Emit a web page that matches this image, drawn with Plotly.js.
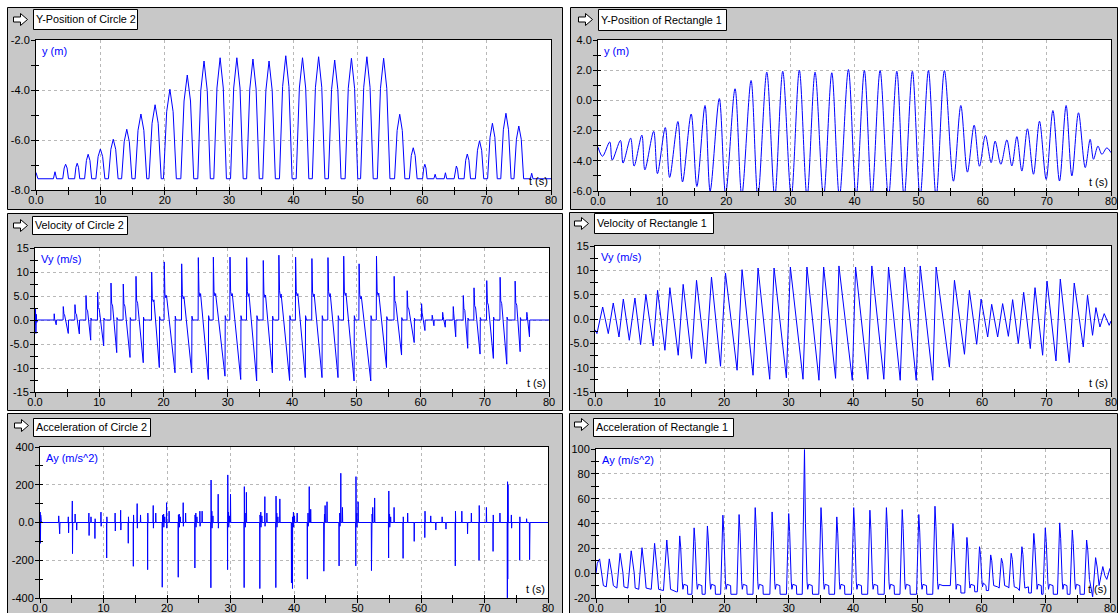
<!DOCTYPE html>
<html><head><meta charset="utf-8">
<script src="https://cdn.plot.ly/plotly-3.0.1.min.js"></script>
<style>html,body{margin:0;padding:0;background:#fff;}#chart{width:1118px;height:613px;}</style>
</head><body><div id="chart"></div>
<script>
// ---------------- DATA ----------------
const timeTicks = [0,10,20,30,40,50,60,70,80];
const timeTickText = ['0.0','10','20','30','40','50','60','70','80'];

const posCircleTicks = [-8,-6,-4,-2];
const posCircleText = ['-8.0','-6.0','-4.0','-2.0'];
const posRectTicks = [-6,-4,-2,0,2,4];
const posRectText = ['-6.0','-4.0','-2.0','0.0','2.0','4.0'];
const velTicks = [-15,-10,-5,0,5,10,15];
const velText = ['-15','-10','-5.0','0.0','5.0','10','15'];
const accCircleTicks = [-400,-200,0,200,400];
const accCircleText = ['-400','-200','0.0','200','400'];
const accRectTicks = [-20,0,20,40,60,80,100];
const accRectText = ['-20','0.0','20','40','60','80','100'];

// Y-Position of Circle 2  [t, y]
const circle2Y = [
[0,-7.3],[0.3,-7.55],
[2.7,-7.55],[2.95,-7.27],[3.2,-7.55],
[4.15,-7.55],[4.38,-7.12],[4.6,-6.97],[4.83,-7.12],[5.05,-7.55],
[6.0,-7.55],[6.2,-7.09],[6.4,-6.93],[6.6,-7.09],[6.8,-7.55],
[7.55,-7.55],[7.83,-6.82],[8.1,-6.57],[8.38,-6.82],[8.65,-7.55],
[9.3,-7.55],[9.65,-6.66],[10.0,-6.36],[10.35,-6.66],[10.7,-7.55],
[11.25,-7.55],[11.63,-6.37],[12.0,-5.97],[12.38,-6.37],[12.75,-7.55],
[13.3,-7.55],[13.7,-6.07],[14.1,-5.57],[14.5,-6.07],[14.9,-7.55],
[15.4,-7.55],[15.85,-5.61],[16.3,-4.96],[16.75,-5.61],[17.2,-7.55],
[17.55,-7.55],[18.03,-5.33],[18.5,-4.59],[18.98,-5.33],[19.45,-7.55],
[19.8,-7.55],[20.3,-4.87],[20.8,-3.97],[21.3,-4.87],[21.8,-7.55],
[22.5,-7.55],[23.0,-4.44],[23.5,-3.4],[24.0,-4.44],[24.5,-7.55],
[25.13,-7.55],[25.6,-4.02],[26.1,-2.84],[26.6,-4.02],[27.08,-7.55],
[27.62,-7.55],[28.11,-3.92],[28.6,-2.71],[29.09,-3.92],[29.58,-7.55],
[30.22,-7.55],[30.71,-3.92],[31.2,-2.71],[31.69,-3.92],[32.18,-7.55],
[32.72,-7.55],[33.21,-3.96],[33.7,-2.76],[34.19,-3.96],[34.68,-7.55],
[35.22,-7.55],[35.71,-4.02],[36.2,-2.84],[36.69,-4.02],[37.18,-7.55],
[37.82,-7.55],[38.31,-3.86],[38.8,-2.63],[39.29,-3.86],[39.78,-7.55],
[40.42,-7.55],[40.91,-3.92],[41.4,-2.71],[41.89,-3.92],[42.38,-7.55],
[42.92,-7.55],[43.41,-3.89],[43.9,-2.67],[44.39,-3.89],[44.88,-7.55],
[45.42,-7.55],[45.91,-3.99],[46.4,-2.8],[46.89,-3.99],[47.38,-7.55],
[48.02,-7.55],[48.51,-3.93],[49.0,-2.73],[49.49,-3.93],[49.98,-7.55],
[50.42,-7.55],[50.91,-3.89],[51.4,-2.67],[51.89,-3.89],[52.38,-7.55],
[53.02,-7.55],[53.51,-3.93],[54.0,-2.73],[54.49,-3.93],[54.98,-7.55],
[55.7,-7.55],[56.1,-5.62],[56.5,-4.97],[56.9,-5.62],[57.3,-7.55],
[58.0,-7.55],[58.3,-6.62],[58.6,-6.31],[58.9,-6.62],[59.2,-7.55],
[60.05,-7.55],[60.23,-7.12],[60.4,-6.97],[60.58,-7.12],[60.75,-7.55],
[61.8,-7.55],[62.0,-7.37],[62.2,-7.55],
[63.4,-7.55],[63.6,-7.31],[63.8,-7.55],
[64.95,-7.55],[65.13,-7.17],[65.3,-7.04],[65.48,-7.17],[65.65,-7.55],
[66.5,-7.55],[66.75,-6.81],[67.0,-6.56],[67.25,-6.81],[67.5,-7.55],
[68.25,-7.55],[68.58,-6.41],[68.9,-6.03],[69.23,-6.41],[69.55,-7.55],
[70.15,-7.55],[70.53,-5.89],[70.9,-5.33],[71.28,-5.89],[71.65,-7.55],
[72.2,-7.55],[72.6,-5.59],[73.0,-4.93],[73.4,-5.59],[73.8,-7.55],
[74.25,-7.55],[74.63,-5.97],[75.0,-5.44],[75.38,-5.97],[75.75,-7.55],
[76.8,-7.55],[77.0,-7.33],[77.2,-7.55],
[80,-7.55]
];

// Y-Position of Rectangle 1  [t, y]  (extrema)
const rect1Y = [
[0,-3.1],[0.7,-3.7],[1.83,-2.75],[2.22,-3.95],[3.5,-2.65],[3.9,-4.15],[5.09,-2.5],[5.63,-4.35],
[6.84,-2.3],[7.31,-4.6],[8.68,-2.05],[9.27,-4.85],[10.49,-1.8],[11.17,-5.1],[12.46,-1.4],[13.18,-5.4],
[14.53,-0.9],[15.42,-5.7],[16.69,-0.34],[17.49,-6.0],[18.92,0.12],[19.9,-6.2],[21.37,0.77],[22.42,-6.3],
[23.87,1.32],[24.93,-6.4],[26.32,1.87],[27.56,-6.4],[28.81,1.93],[30.14,-6.4],[31.4,2.0],[32.6,-6.4],
[33.85,1.87],[35.17,-6.4],[36.46,1.83],[37.65,-6.4],[39.05,2.05],[40.25,-6.4],[41.54,1.98],[42.7,-6.4],
[43.99,1.98],[45.3,-6.4],[46.6,1.93],[47.74,-6.4],[49.03,1.93],[50.23,-6.4],[51.53,1.98],[52.73,-6.4],
[54.02,1.98],[55.43,-5.35],[56.58,-0.34],[57.61,-4.75],[58.66,-1.64],[59.49,-4.36],[60.42,-2.32],[61.31,-4.12],
[61.93,-2.7],[62.82,-4.23],[63.76,-2.62],[64.54,-4.34],[65.32,-2.4],[66.1,-4.68],[66.97,-1.88],[67.91,-4.89],
[68.85,-1.38],[69.89,-5.23],[70.94,-0.67],[71.97,-5.34],[73.0,-0.34],[73.9,-5.0],[74.93,-0.82],[75.98,-4.45],
[76.75,-2.58],[77.27,-3.9],[77.96,-3.03],[78.58,-3.57],[79.36,-3.14],[80,-3.46]
];

// Velocity of Circle 2  [t, Vy]
const circle2V = [
[0,-1],[0.08,2.5],[0.14,-2.8],[0.2,1.2],[0.28,-0.5],[0.4,0],
[2.96,0],[2.99,1.3],[3.05,0.3],[3.3,-1.0],[3.34,0],
[4.37,0],[4.4,2.8],[4.5,1.3],[4.6,1.1],[5.18,-2.8],[5.22,0],
[6.19,0],[6.22,3.2],[6.32,1.4],[6.45,1.2],[6.9,-2.9],[6.94,0],
[7.91,0],[7.94,5.1],[8.04,2.3],[8.19,1.9],[8.67,-4.2],[8.71,0.4],[8.8,0],
[9.72,0],[9.75,5.8],[9.85,2.6],[10.0,2.2],[10.69,-5.4],[10.73,0.4],[10.85,0],
[11.8,0],[11.83,7.7],[11.93,3.5],[12.08,2.9],[12.72,-6.8],[12.76,0.5],[12.9,0],
[13.71,0],[13.74,7.5],[13.84,3.4],[13.99,2.9],[14.79,-7.8],[14.83,0.5],[14.95,0],
[15.69,0],[15.72,9.1],[15.82,4.1],[15.97,3.5],[16.85,-8.9],[16.89,0.6],[17.0,0],
[18.13,0],[18.16,10.0],[18.26,4.5],[18.41,3.8],[18.51,4.2],[19.35,-9.9],[19.39,0.7],[19.5,0],
[20.09,0],[20.12,12.1],[20.22,5.4],[20.37,4.6],[20.47,5.1],[21.79,-11.0],[21.83,0.8],[21.95,0],
[22.8,0],[22.83,11.7],[22.93,5.3],[23.08,4.4],[23.18,4.9],[24.39,-11.0],[24.43,0.8],[24.55,0],
[25.39,0],[25.42,13.0],[25.52,5.9],[25.67,4.9],[25.77,5.5],[26.98,-12.4],[27.02,0.9],[27.15,0],
[27.73,0],[27.76,13.1],[27.86,5.9],[28.01,5.0],[28.11,5.5],[29.57,-11.7],[29.61,0.9],[29.75,0],
[30.32,0],[30.35,13.1],[30.45,5.9],[30.6,5.0],[30.7,5.5],[32.02,-12.4],[32.06,0.9],[32.2,0],
[32.92,0],[32.95,13.0],[33.05,5.9],[33.2,4.9],[33.3,5.5],[34.5,-12.7],[34.54,0.9],[34.7,0],
[35.5,0],[35.53,12.4],[35.63,5.6],[35.78,4.7],[35.88,5.2],[36.95,-11.0],[36.99,0.8],[37.1,0],
[37.93,0],[37.96,13.5],[38.06,6.1],[38.21,4.7],[38.31,5.4],[39.63,-12.6],[39.67,0.9],[39.8,0],
[40.53,0],[40.56,13.1],[40.66,5.9],[40.81,5.0],[40.91,5.5],[42.07,-12.0],[42.11,0.9],[42.25,0],
[43.07,0],[43.1,12.8],[43.2,5.8],[43.35,4.9],[43.45,5.4],[44.67,-12.0],[44.71,0.9],[44.85,0],
[45.57,0],[45.6,13.0],[45.7,5.9],[45.85,4.9],[45.95,5.5],[47.16,-12.0],[47.2,0.9],[47.35,0],
[48.02,0],[48.05,13.3],[48.15,6.0],[48.3,5.1],[48.4,5.6],[49.66,-12.7],[49.7,0.9],[49.85,0],
[50.41,0],[50.44,11.7],[50.54,5.3],[50.69,4.4],[50.79,4.9],[52.26,-12.7],[52.3,0.9],[52.45,0],
[53.12,0],[53.15,13.3],[53.25,6.0],[53.4,5.1],[53.5,5.6],[54.71,-9.9],[54.75,0.7],[54.9,0],
[55.87,0],[55.9,9.1],[56.0,4.1],[56.15,3.5],[57.05,-7.3],[57.09,0.5],[57.2,0],
[57.9,0],[57.93,6.1],[58.03,2.7],[58.18,2.3],[59.02,-4.7],[59.06,0.4],[59.15,0],
[60.14,0],[60.17,3.4],[60.25,1.5],[60.69,-2.2],[60.73,0],
[61.79,0],[61.82,1.0],[61.9,0.4],[62.09,-1.2],[62.13,0],
[63.42,0],[63.45,1.6],[63.53,0.7],[63.85,-1.5],[63.89,0],
[65.07,0],[65.1,2.8],[65.18,1.3],[65.48,-3.5],[65.52,0],
[66.63,0],[66.66,5.1],[66.76,2.3],[66.9,2.0],[67.35,-5.9],[67.39,0.4],[67.5,0],
[68.3,0],[68.33,6.7],[68.43,3.0],[68.58,2.5],[69.27,-7.1],[69.31,0.5],[69.45,0],
[70.28,0],[70.31,8.2],[70.41,3.7],[70.56,3.1],[71.34,-8.0],[71.38,0.6],[71.5,0],
[72.36,0],[72.39,8.9],[72.49,4.0],[72.64,3.4],[73.43,-9.2],[73.47,0.6],[73.6,0],
[74.7,0],[74.73,8.1],[74.83,3.6],[74.98,3.1],[75.51,-6.6],[75.55,0.5],[75.65,0],
[76.52,0],[76.55,1.6],[76.63,0.7],[76.96,-3.5],[77.0,0],
[80,0]
];

// Velocity of Rectangle 1  [t, Vy]  (extrema)
const rect1V = [
[0,-2.2],[0.3,-3.0],[1.19,2.46],[2.06,-3.0],[2.83,3.29],[3.72,-3.7],[4.39,4.1],[5.32,-4.37],
[6.19,4.31],[7.07,-5.26],[7.89,5.07],[9.03,-5.53],[9.7,5.89],[10.84,-6.43],[11.61,6.44],[12.9,-7.45],
[13.67,7.12],[14.97,-8.13],[15.74,7.95],[17.18,-9.16],[18.06,8.62],[19.46,-9.71],[20.23,9.45],[22.03,-10.53],
[22.8,10.14],[24.5,-11.56],[25.28,10.48],[27.09,-12.38],[27.76,10.48],[29.67,-12.1],[30.29,10.68],[32.25,-12.38],
[32.86,10.68],[34.72,-12.59],[35.45,10.68],[37.3,-12.2],[37.82,10.9],[39.89,-12.59],[40.4,10.68],[42.3,-12.38],
[42.92,10.9],[44.78,-12.38],[45.51,10.68],[47.32,-12.59],[47.99,10.68],[49.8,-12.59],[50.42,10.9],[52.37,-12.59],
[52.89,10.68],[54.95,-9.86],[55.73,7.95],[57.28,-7.25],[58.05,5.89],[59.18,-5.2],[59.86,4.1],[60.88,-3.7],
[61.5,3.02],[62.43,-3.7],[63.2,3.16],[64.09,-3.56],[64.75,3.98],[65.63,-5.05],[66.46,5.48],[67.49,-6.08],
[68.22,6.44],[69.4,-7.45],[70.08,7.8],[71.47,-8.62],[72.14,8.21],[73.53,-8.96],[74.3,7.39],[75.7,-5.75],
[76.36,4.87],[77.14,-3.35],[77.66,2.34],[78.28,-1.64],[78.95,1.1],[79.72,-1.3],[80,-0.4]
];

// Acceleration of Circle 2  [t, Ay]
const circle2A = [
[0,0],[0.03,55],[0.07,-110],[0.11,40],[0.16,-60],[0.2,10],[0.3,0],
[2.9,0],[2.95,35],[3.0,-15],[3.1,-60],[3.15,0],
[4.42,0],[4.46,30],[4.5,-55],[4.55,0],
[5.05,0],[5.09,114],[5.12,-165],[5.16,0],[5.5,0],[5.53,45],[5.57,0],[5.75,0],[5.78,-40],[5.82,0],
[7.65,0],[7.7,50],[7.73,-69],[7.77,0],[8.0,0],[8.03,30],[8.07,0],
[8.62,0],[8.65,-85],[8.68,20],[8.72,0],
[9.57,0],[9.6,55],[9.63,-20],[9.67,0],
[10.47,0],[10.5,-188],[10.53,30],[10.57,0],
[11.8,0],[11.83,50],[11.86,-45],[11.9,0],
[12.67,0],[12.7,65],[12.73,-40],[12.77,0],
[13.87,0],[13.9,-110],[13.93,30],[13.97,0],
[14.67,0],[14.7,-232],[14.73,40],[14.77,0],
[15.27,0],[15.3,100],[15.33,-30],[15.37,0],[15.8,0],[15.83,40],[15.87,0],
[16.92,0],[16.95,-250],[16.98,50],[17.02,0],
[17.8,0],[17.83,90],[17.86,-30],[17.9,0],[18.2,0],[18.23,50],[18.27,0],
[19.22,0],[19.25,-343],[19.28,-280],[19.31,40],[19.35,0],[19.45,0],[19.47,45],[19.5,-25],[19.53,0],[19.62,0],[19.64,30],[19.67,0],
[19.9,0],[19.93,105],[19.96,-30],[20.0,0],[20.3,0],[20.33,60],[20.37,0],
[21.74,0],[21.77,-290],[21.8,40],[21.84,0],[21.9,0],[21.92,45],[21.95,-25],[21.98,0],[22.07,0],[22.09,30],[22.12,0],
[22.52,0],[22.55,105],[22.58,-20],[22.62,0],[22.9,0],[22.93,50],[22.97,0],
[24.36,0],[24.39,-241],[24.42,40],[24.46,0],[24.52,0],[24.54,50],[24.57,-25],[24.6,0],[24.69,0],[24.71,30],[24.74,0],
[25.15,0],[25.18,60],[25.21,-20],[25.25,0],[25.5,0],[25.53,60],[25.57,0],
[26.88,0],[26.91,-346],[26.94,225],[26.98,0],[27.04,0],[27.06,60],[27.09,-30],[27.12,0],[27.21,0],[27.23,35],[27.26,0],
[28.03,0],[28.06,150],[28.09,-30],[28.13,0],
[29.51,0],[29.54,-250],[29.57,252],[29.61,0],[29.67,0],[29.69,55],[29.72,-25],[29.75,0],[29.82,0],[29.84,35],[29.87,0],[29.97,0],[30.0,150],[30.04,0],
[32.12,0],[32.15,-345],[32.18,190],[32.22,0],[32.28,0],[32.3,50],[32.33,-25],[32.36,0],[32.47,0],[32.5,160],[32.54,0],
[34.59,0],[34.62,-350],[34.65,40],[34.69,0],[34.75,0],[34.77,55],[34.8,-25],[34.83,0],[34.92,0],[34.94,35],[34.97,0],
[35.38,0],[35.41,137],[35.44,-20],[35.48,0],[35.7,0],[35.73,50],[35.77,0],
[37.11,0],[37.14,-345],[37.17,140],[37.21,0],[37.27,0],[37.29,50],[37.32,-25],[37.35,0],[37.44,0],[37.46,30],[37.49,0],[37.74,0],[37.77,125],[37.81,0],
[39.57,0],[39.6,-320],[39.63,0],[39.73,0],[39.76,-350],[39.79,30],[39.83,0],[39.89,0],[39.91,55],[39.94,-25],[39.97,0],[40.06,0],[40.08,35],[40.11,0],
[40.45,0],[40.5,50],[40.54,0],
[42.07,0],[42.1,-300],[42.13,0],[42.19,0],[42.21,50],[42.24,-20],[42.27,0],[42.37,0],[42.4,190],[42.44,0],[42.6,0],[42.63,70],[42.67,0],
[44.67,0],[44.7,-258],[44.73,0],[44.78,0],[44.8,45],[44.82,0],[44.87,0],[44.9,90],[44.94,0],[45.17,0],[45.2,110],[45.24,0],
[47.07,0],[47.1,-230],[47.13,0],[47.19,0],[47.21,50],[47.24,-20],[47.27,0],[47.34,0],[47.37,261],[47.41,0],[47.6,0],[47.63,80],[47.67,0],
[49.7,0],[49.73,-230],[49.76,243],[49.8,0],[49.86,0],[49.88,50],[49.91,-25],[49.94,0],[50.07,0],[50.1,110],[50.14,0],
[52.17,0],[52.2,-255],[52.23,0],[52.28,0],[52.3,45],[52.32,0],[52.37,0],[52.4,80],[52.44,0],[52.67,0],[52.7,130],[52.74,0],
[54.87,0],[54.9,-188],[54.93,167],[54.97,0],[55.03,0],[55.05,45],[55.08,-25],[55.11,0],[55.2,0],[55.22,30],[55.25,0],
[55.73,0],[55.76,80],[55.8,0],
[57.15,0],[57.18,-190],[57.21,30],[57.25,0],
[57.87,0],[57.9,50],[57.94,0],[58.9,0],[58.93,-100],[58.97,0],
[60.57,0],[60.6,-80],[60.63,60],[60.67,0],
[61.5,0],[61.53,35],[61.57,0],[62.3,0],[62.33,-40],[62.37,0],[63.3,0],[63.33,30],[63.37,0],[63.9,0],[63.93,-35],[63.97,0],
[65.37,0],[65.4,-230],[65.43,60],[65.47,0],
[66.4,0],[66.43,60],[66.47,0],[67.3,0],[67.33,-60],[67.37,0],[67.9,0],[67.93,50],[67.97,0],
[69.11,0],[69.14,-200],[69.17,90],[69.21,0],
[70.27,0],[70.3,80],[70.34,0],
[71.32,0],[71.35,-153],[71.38,40],[71.42,0],
[72.4,0],[72.43,50],[72.47,0],
[73.57,0],[73.6,-399],[73.63,216],[73.66,-300],[73.7,200],[73.74,0],
[74.2,0],[74.23,40],[74.27,-30],[74.31,0],
[75.51,0],[75.54,-200],[75.57,30],[75.61,0],
[76.6,0],[76.63,20],[76.67,0],
[77.07,0],[77.1,-197],[77.13,-100],[77.17,0],
[80,0]
];

// Acceleration of Rectangle 1  [t, Ay]
const rect1A = [
[0,0],[0.2,8],[0.56,11.5],[0.85,2],[1.15,-10],[1.6,-11],
[2.07,11.5],[2.45,0],[2.7,-10],[3.25,-12],
[3.75,16],[4.2,0],[4.35,-11],[4.95,-12],
[5.48,18],[5.95,0],[6.1,-12],[6.65,-13],
[7.16,20.5],[7.6,0],[7.8,-12],[8.6,-13],
[9.12,24],[9.55,0],[9.75,-13],[10.5,-14],
[11.02,26.7],[11.45,-2],[11.6,-13],[12.5,-15],
[12.68,-15],[13.03,30],[13.18,21],[13.43,-7],[13.53,-13],[13.68,-9],[14.23,-10],[14.28,-17],
[14.92,-17],[15.27,36.5],[15.42,25.6],[15.67,-7],[15.77,-13],[15.92,-9],[16.47,-10],[16.52,-17],
[16.99,-17],[17.34,38],[17.49,26.6],[17.74,-7],[17.84,-13],[17.99,-9],[18.54,-10],[18.59,-17],
[19.4,-17],[19.75,46.7],[19.9,32.7],[20.15,-7],[20.25,-13],[20.4,-9],[20.95,-10],[21.0,-17],
[21.92,-17],[22.27,47.2],[22.42,33],[22.67,-7],[22.77,-13],[22.92,-9],[23.47,-10],[23.52,-17],
[24.43,-17],[24.78,52.8],[24.93,37],[25.18,-7],[25.28,-13],[25.43,-9],[25.98,-10],[26.03,-17],
[27.06,-17],[27.41,49.3],[27.56,34.5],[27.81,-7],[27.91,-13],[28.06,-9],[28.61,-10],[28.66,-17],
[29.64,-17],[29.99,48],[30.14,33.6],[30.39,-7],[30.49,-13],[30.64,-9],[31.19,-10],[31.24,-17],
[32.1,-17],[32.45,99.5],[32.52,72],[32.6,40],[32.85,-7],[32.95,-13],[33.1,-9],[33.65,-10],[33.7,-17],
[34.67,-17],[35.02,52.8],[35.17,37],[35.42,-7],[35.52,-13],[35.67,-9],[36.22,-10],[36.27,-17],
[37.13,-17],[37.48,45.3],[37.63,31.7],[37.88,-7],[37.98,-13],[38.13,-9],[38.68,-10],[38.73,-17],
[39.76,-17],[40.11,52.8],[40.26,37],[40.51,-7],[40.61,-13],[40.76,-9],[41.31,-10],[41.36,-17],
[42.28,-17],[42.63,50.7],[42.78,35.5],[43.03,-7],[43.13,-13],[43.28,-9],[43.83,-10],[43.88,-17],
[44.85,-17],[45.2,52.8],[45.35,37],[45.6,-7],[45.7,-13],[45.85,-9],[46.4,-10],[46.45,-17],
[47.31,-17],[47.66,51.2],[47.81,35.8],[48.06,-7],[48.16,-13],[48.31,-9],[48.86,-10],[48.91,-17],
[49.89,-17],[50.24,47.2],[50.39,33],[50.64,-7],[50.74,-13],[50.89,-9],[51.44,-10],[51.49,-17],
[52.41,-17],[52.76,53.9],[52.91,37.7],[53.16,-7],[53.26,-13],[53.41,-9],[54.0,-10],[55.15,-10],
[55.55,40],[55.7,28],[55.95,-7],[56.05,-13],[56.2,-9],[56.75,-10],[56.8,-16],[57.4,-16],
[57.73,28.8],[57.88,20],[58.1,-6],[58.2,-12],[58.35,-9],[58.9,-10],[58.95,-15],[59.35,-15],
[59.69,21.3],[59.85,15],[60.05,-5],[60.15,-11],[60.3,-8],[60.7,-10],[60.75,-14],[61.1,-14],
[61.43,14.7],[61.6,10],[61.8,-4],[61.9,-10],[62.5,-11],[62.75,-12],
[63.1,12],[63.3,8],[63.5,-4],[63.6,-10],[64.1,-11],[64.25,-12],
[64.62,16],[64.8,11],[65.0,-5],[65.1,-11],[65.6,-12],[65.9,-14],
[66.29,21.3],[66.45,15],[66.65,-6],[66.75,-12],[67.3,-11],[67.35,-16],[67.75,-16],
[68.14,32],[68.3,22],[68.55,-7],[68.65,-13],[68.8,-9],[69.3,-10],[69.35,-17],[69.58,-17],
[69.93,36.5],[70.08,25.5],[70.33,-7],[70.43,-13],[70.58,-9],[71.13,-10],[71.18,-17],[71.82,-17],
[72.17,40.5],[72.32,28],[72.57,-7],[72.67,-13],[72.82,-9],[73.3,-10],[73.35,-17],[73.78,-17],
[74.13,34.7],[74.28,24],[74.53,-7],[74.63,-13],[74.78,-9],[75.3,-10],[75.35,-17],[76.0,-17],
[76.36,26.7],[76.55,18],[76.8,-5],[77.0,-12],[77.3,-19],
[77.76,12.5],[78.0,5],[78.3,-10],[78.5,-5],
[78.88,5.3],[79.2,-2],[79.5,-5],[80,4]
];

// ---------------- LAYOUT / STYLE ----------------
const W = 1118, H = 613;
const FONT = '"Liberation Sans", Arial, Helvetica, sans-serif';
const PANEL_GRAY = '#c8c8c8';
const LINE_BLUE = '#0000ff';
const GRID = '#b8b8b8';

const panels = [
  {series: circle2Y, yr:[-8,-2], ytv:posCircleTicks, ytt:posCircleText, ym:1, title:'Y-Position of Circle 2', unit:'y (m)',
   box:[7,7,562,209], plot:[36,40,551,190], tbox:[33,9,137,29], arrow:[13,13], shape:'linear'},
  {series: rect1Y, yr:[-6,4], ytv:posRectTicks, ytt:posRectText, ym:1, title:'Y-Position of Rectangle 1', unit:'y (m)',
   box:[570,7,1117,209], plot:[598,40,1111,191], tbox:[598,9,726,30], arrow:[578,13], shape:'spline'},
  {series: circle2V, yr:[-15,15], ytv:velTicks, ytt:velText, ym:2.5, title:'Velocity of Circle 2', unit:'Vy (m/s)',
   box:[7,213,562,410], plot:[35,248,549,392], tbox:[32,216,127,234], arrow:[13,219], shape:'linear'},
  {series: rect1V, yr:[-15,15], ytv:velTicks, ytt:velText, ym:2.5, title:'Velocity of Rectangle 1', unit:'Vy (m/s)',
   box:[569,212,1117,410], plot:[595,246,1111,392], tbox:[594,213,713,233], arrow:[574,217], shape:'linear'},
  {series: circle2A, yr:[-400,400], ytv:accCircleTicks, ytt:accCircleText, ym:100, title:'Acceleration of Circle 2', unit:'Ay (m/s^2)',
   box:[7,413,562,614], plot:[40,447,548,598], tbox:[33,418,150,436], arrow:[14,419], shape:'linear'},
  {series: rect1A, yr:[-20,100], ytv:accRectTicks, ytt:accRectText, ym:10, title:'Acceleration of Rectangle 1', unit:'Ay (m/s^2)',
   box:[569,413,1117,614], plot:[596,449,1110,598], tbox:[593,418,733,436], arrow:[574,418], shape:'linear'}
];

function fx(p){ return p / W; }
function fy(p){ return 1 - p / H; }

const layout = {
  width: W, height: H,
  margin: {l:0, r:0, t:0, b:0, pad:0},
  paper_bgcolor: '#ffffff', plot_bgcolor: '#ffffff',
  showlegend: false, hovermode: false,
  font: {family: FONT, size: 11, color: '#000'},
  shapes: [], annotations: []
};
const data = [];
const tickFont = {family: FONT, size: 11, color: '#000'};

panels.forEach(p => {
  layout.shapes.push({type:'rect', xref:'paper', yref:'paper', layer:'below',
    x0:fx(p.box[0]+0.5), x1:fx(p.box[2]+0.5), y0:fy(p.box[3]+0.5), y1:fy(p.box[1]+0.5),
    fillcolor:PANEL_GRAY, line:{color:'#000', width:1}});
});
panels.forEach((p, k) => {
  const n = k + 1, m = k + 7;
  const s = n === 1 ? '' : String(n);
  layout.shapes.push({type:'rect', xref:'paper', yref:'paper', layer:'below',
    x0:fx(p.plot[0]), x1:fx(p.plot[2]), y0:fy(p.plot[3]), y1:fy(p.plot[1]),
    fillcolor:'#ffffff', line:{width:0}});
  layout.shapes.push({type:'rect', xref:'paper', yref:'paper', layer:'below',
    x0:fx(p.tbox[0]+0.5), x1:fx(p.tbox[2]+0.5), y0:fy(p.tbox[3]+0.5), y1:fy(p.tbox[1]+0.5),
    fillcolor:'#ffffff', line:{color:'#000', width:1}});
  const ax = p.arrow[0] + 0.5, ay = p.arrow[1] + 0.5;
  const pts = [[ax,ay+3.5],[ax+7,ay+3.5],[ax+7,ay],[ax+14,ay+6],[ax+7,ay+12],[ax+7,ay+8.5],[ax,ay+8.5]];
  const path = 'M' + pts.map(q => fx(q[0]).toFixed(5) + ',' + fy(q[1]).toFixed(5)).join(' L') + ' Z';
  layout.shapes.push({type:'path', xref:'paper', yref:'paper', layer:'below', path:path,
    fillcolor:'#ffffff', line:{color:'#000', width:1}});

  const xdom = [fx(p.plot[0]), fx(p.plot[2])];
  const ydom = [fy(p.plot[3]), fy(p.plot[1])];
  layout['xaxis' + s] = {
    domain: xdom, anchor: 'y' + s, range: [0, 80],
    tickmode: 'array', tickvals: timeTicks, ticktext: timeTickText,
    ticks: 'outside', ticklen: 4, tickwidth: 1, tickcolor: '#000', ticklabelstandoff: -4,
    minor: {tickmode:'linear', tick0:0, dtick:5, ticks:'outside', ticklen:4, tickwidth:1, tickcolor:'#000', showgrid:false},
    showgrid: true, gridcolor: GRID, griddash: '3px,3px', gridwidth: 1,
    showline: true, mirror: true, linecolor: '#000', linewidth: 1,
    zeroline: false, tickfont: tickFont, fixedrange: true
  };
  layout['yaxis' + s] = {
    domain: ydom, anchor: 'x' + s, range: p.yr,
    tickmode: 'array', tickvals: p.ytv, ticktext: p.ytt,
    ticks: 'outside', ticklen: 4, tickwidth: 1, tickcolor: '#000', ticklabelstandoff: -1,
    minor: {tickmode:'linear', tick0:p.yr[0], dtick:p.ym, ticks:'outside', ticklen:4, tickwidth:1, tickcolor:'#000', showgrid:false},
    showgrid: true, gridcolor: GRID, griddash: '3px,3px', gridwidth: 1,
    showline: true, mirror: true, linecolor: '#000', linewidth: 1,
    zeroline: false, tickfont: tickFont, fixedrange: true
  };
  layout['xaxis' + m] = {
    overlaying: 'x' + s, anchor: 'y' + m, range: [0, 80],
    tickmode: 'linear', tick0: 0, dtick: 5, ticks: 'inside', ticklen: 3, tickwidth: 1, tickcolor: '#000',
    showticklabels: false, showgrid: false, showline: false, zeroline: false, fixedrange: true
  };
  layout['yaxis' + m] = {
    overlaying: 'y' + s, anchor: 'x' + m, range: p.yr,
    tickmode: 'linear', tick0: p.yr[0], dtick: p.ym, ticks: 'inside', ticklen: 3, tickwidth: 1, tickcolor: '#000',
    showticklabels: false, showgrid: false, showline: false, zeroline: false, fixedrange: true
  };
  data.push({type:'scatter', mode:'lines', x:[], y:[], xaxis:'x'+m, yaxis:'y'+m, hoverinfo:'skip', showlegend:false});

  data.push({
    type: 'scatter', mode: 'lines',
    x: p.series.map(d => d[0]), y: p.series.map(d => d[1]),
    xaxis: 'x' + s, yaxis: 'y' + s,
    line: {color: LINE_BLUE, width: 1, shape: p.shape, smoothing: 0.9},
    hoverinfo: 'skip', showlegend: false
  });

  layout.annotations.push({xref:'paper', yref:'paper', x:fx(p.tbox[0]+1), y:fy((p.tbox[1]+p.tbox[3])/2),
    xanchor:'left', yanchor:'middle', text:p.title, showarrow:false, borderpad:1,
    font:{family:FONT, size:10.8, color:'#000'}});
  layout.annotations.push({xref:'paper', yref:'paper', x:fx(p.plot[0]+4), y:fy(p.plot[1]+3),
    xanchor:'left', yanchor:'top', text:p.unit, showarrow:false, font:{family:FONT, size:11, color:'#0000ff'}});
  layout.annotations.push({xref:'paper', yref:'paper', x:fx(p.plot[2]-1), y:fy(p.plot[3]-1),
    xanchor:'right', yanchor:'bottom', text:'t (s)', showarrow:false, font:{family:FONT, size:11, color:'#000'}});
});

Plotly.newPlot('chart', data, layout, {displayModeBar:false, staticPlot:true});
</script>
</body></html>
